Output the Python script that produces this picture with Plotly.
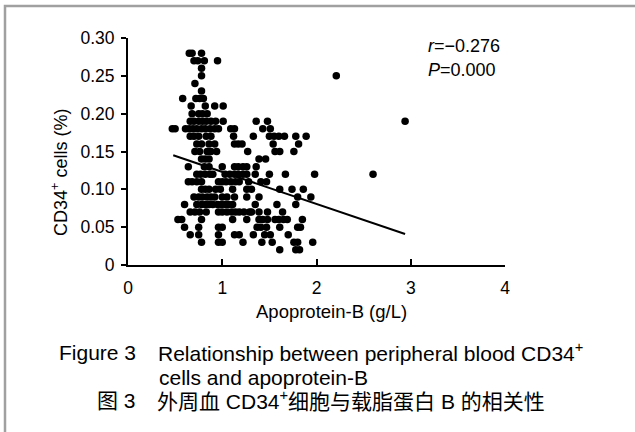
import plotly.graph_objects as go

# CD34+ cell levels (%) – each row of dots in the scatter
cd34_levels = [0.28, 0.27, 0.26, 0.25, 0.24, 0.23, 0.22, 0.21, 0.20, 0.19,
               0.18, 0.17, 0.16, 0.15, 0.14, 0.13, 0.12, 0.11, 0.10, 0.09,
               0.08, 0.07, 0.06, 0.05, 0.04, 0.03, 0.02]

# Apoprotein-B values (g/L) of the dots lying on each level above
apob_by_level = [
    [0.65, 0.68, 0.78],
    [0.70, 0.74, 0.81, 0.95],
    [0.78],
    [0.78, 2.21],
    [0.71],
    [0.78],
    [0.58, 0.72, 0.76, 0.80],
    [0.67, 0.82, 0.92, 1.01],
    [0.68, 0.75, 0.79, 0.84],
    [0.66, 0.70, 0.75, 0.79, 0.83, 0.88, 0.93, 1.01, 1.36, 1.48, 2.94],
    [0.47, 0.50, 0.61, 0.65, 0.69, 0.73, 0.78, 0.82, 0.87, 0.92, 0.96, 1.09, 1.13, 1.43, 1.51],
    [0.66, 0.70, 0.75, 0.83, 0.88, 1.12, 1.33, 1.50, 1.55, 1.60, 1.66, 1.78, 1.89],
    [0.73, 0.78, 0.86, 0.92, 1.13, 1.17, 1.21, 1.54, 1.81],
    [0.71, 0.76, 0.84, 0.88, 0.94, 1.27, 1.56, 1.61, 1.76],
    [0.78, 0.82, 0.86, 1.39, 1.46],
    [0.64, 0.81, 0.86, 1.00, 1.13, 1.17, 1.22, 1.26, 1.36],
    [0.73, 0.77, 0.82, 0.87, 0.90, 1.03, 1.08, 1.13, 1.17, 1.22, 1.26, 1.35, 1.50, 1.67, 1.98, 2.60],
    [0.64, 0.68, 0.73, 0.78, 0.96, 1.00, 1.04, 1.09, 1.14, 1.18, 1.28, 1.41, 1.47],
    [0.78, 0.82, 0.86, 0.93, 0.98, 1.11, 1.26, 1.31, 1.61, 1.74, 1.86],
    [0.70, 0.75, 0.79, 0.84, 0.88, 0.92, 1.00, 1.05, 1.13, 1.26, 1.39, 1.80, 1.94],
    [0.60, 0.73, 0.78, 0.82, 0.86, 0.90, 0.95, 0.99, 1.03, 1.07, 1.11, 1.35, 1.58, 1.78],
    [0.66, 0.71, 0.76, 0.83, 0.96, 1.00, 1.05, 1.10, 1.14, 1.18, 1.23, 1.29, 1.31, 1.39, 1.48, 1.64],
    [0.53, 0.57, 0.78, 1.11, 1.26, 1.39, 1.43, 1.48, 1.56, 1.60, 1.65, 1.69, 1.85],
    [0.60, 0.75, 0.96, 1.00, 1.37, 1.41, 1.47, 1.61, 1.80, 1.83],
    [0.66, 0.75, 0.96, 1.13, 1.18, 1.33, 1.45, 1.51, 1.70],
    [0.78, 0.96, 1.00, 1.22, 1.42, 1.53, 1.76, 1.80, 1.96],
    [1.61, 1.78, 1.82],
]

# Regression line end points (data units)
fit_x = [0.48, 2.94]
fit_y = [0.145, 0.041]

x_tickvals = [0, 1, 2, 3, 4]
x_ticktext = ["0", "1", "2", "3", "4"]
y_tickvals = [0, 0.05, 0.10, 0.15, 0.20, 0.25, 0.30]
y_ticktext = ["0", "0.05", "0.10", "0.15", "0.20", "0.25", "0.30"]

stats_r = "−0.276"
stats_p = "0.000"

# flatten rows into point lists
apob = []
cd34 = []
for lvl, xs in zip(cd34_levels, apob_by_level):
    for v in xs:
        apob.append(v)
        cd34.append(lvl)

W, H = 635, 432
L, R, T, B = 128, 130, 38, 167
PW, PH = W - L - R, H - T - B


def px(x):
    return (x - L) / PW


def py(y):
    return (H - B - y) / PH


LAT = "Arial, 'Liberation Sans', Helvetica, sans-serif"
CJK = "Arial, 'Liberation Sans', 'Noto Sans CJK SC', sans-serif"
FS = 17.5

fig = go.Figure()
fig.add_trace(go.Scatter(
    x=apob, y=cd34, mode="markers",
    marker=dict(color="black", size=7.5, line=dict(width=0)),
    showlegend=False, hoverinfo="skip"))
fig.add_trace(go.Scatter(
    x=fit_x, y=fit_y, mode="lines",
    line=dict(color="black", width=2),
    showlegend=False, hoverinfo="skip"))

fig.update_layout(
    width=W, height=H,
    margin=dict(l=L, r=R, t=T, b=B, pad=0),
    paper_bgcolor="white", plot_bgcolor="white",
    font=dict(family=LAT, size=FS, color="black"),
    hovermode=False,
    xaxis=dict(range=[0, 4], tickvals=x_tickvals, ticktext=x_ticktext,
               ticks="inside", ticklen=6, tickwidth=2, tickcolor="black",
               showline=True, linewidth=2, linecolor="black",
               showgrid=False, zeroline=False, ticklabelstandoff=6,
               tickfont=dict(size=FS)),
    yaxis=dict(range=[0, 0.30], tickvals=y_tickvals, ticktext=y_ticktext,
               ticks="outside", ticklen=5, tickwidth=2, tickcolor="black",
               showline=True, linewidth=2, linecolor="black",
               showgrid=False, zeroline=False, ticklabelstandoff=3,
               tickfont=dict(size=FS)),
)

ann = []


def add(text, x, y, xanchor="left", size=FS, family=LAT, angle=0):
    ann.append(dict(text=text, x=px(x), y=py(y), xref="paper", yref="paper",
                    xanchor=xanchor, yanchor="middle", showarrow=False,
                    textangle=angle, font=dict(size=size, family=family, color="black")))


add("<i>r</i>=" + stats_r, 426, 46, size=18)
add("<i>P</i>=" + stats_p, 426, 70, size=18)
add("Apoprotein-B (g/L)", 331, 311, xanchor="center", size=18.5)
add("CD34<sup>+</sup> cells (%)", 59, 173, xanchor="center", angle=-90, size=18)
add("Figure 3", 57, 352, size=21)
add("Relationship between peripheral blood CD34<sup>+</sup>", 156, 352, size=21)
add("cells and apoprotein-B", 157, 377, size=21)
add("图 3", 95, 400, family=CJK, size=21)
add("外周血 CD34<sup>+</sup>细胞与载脂蛋白 B 的相关性", 155, 400, family=CJK, size=21)
fig.update_layout(annotations=ann)

# outer frame (only left and top edges fall inside the picture)
fig.add_shape(type="rect", xref="paper", yref="paper", layer="above",
              x0=px(5), x1=px(660), y0=py(6), y1=py(460),
              line=dict(color="#a0a0a0", width=2.5), fillcolor="rgba(0,0,0,0)")

fig.write_html("out.html", config={"displayModeBar": False},
               post_script="document.body.style.margin='0';")
